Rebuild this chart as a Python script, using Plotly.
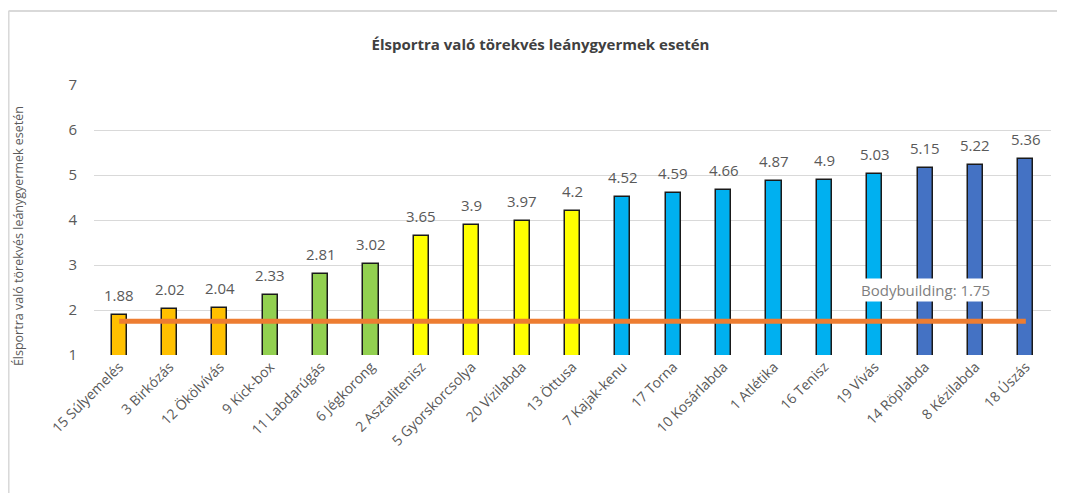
import plotly.graph_objects as go

# adatok
sports = ["15 Súlyemelés", "3 Birkózás", "12 Ökölvívás", "9 Kick-box", "11 Labdarúgás",
          "6 Jégkorong", "2 Asztalitenisz", "5 Gyorskorcsolya", "20 Vízilabda", "13 Öttusa",
          "7 Kajak-kenu", "17 Torna", "10 Kosárlabda", "1 Atlétika", "16 Tenisz",
          "19 Vívás", "14 Röplabda", "8 Kézilabda", "18 Úszás"]
values = [1.88, 2.02, 2.04, 2.33, 2.81, 3.02, 3.65, 3.9, 3.97, 4.2,
          4.52, 4.59, 4.66, 4.87, 4.9, 5.03, 5.15, 5.22, 5.36]
groups = ["o"] * 3 + ["g"] * 3 + ["y"] * 4 + ["lb"] * 6 + ["b"] * 3
group_colors = {"o": "#FFC000", "g": "#92D050", "y": "#FFFF00", "lb": "#00B0F0", "b": "#4472C4"}
bodybuilding = 1.75

fig = go.Figure()

fig.add_trace(go.Bar(
    x=sports, y=values,
    marker=dict(color=[group_colors[g] for g in groups],
                line=dict(color="#1a1a1a", width=1.5)),
    width=0.3,
    showlegend=False,
))

# Bodybuilding referencia vonal
fig.add_trace(go.Scatter(
    x=[sports[0], sports[-1]], y=[bodybuilding, bodybuilding],
    mode="lines", line=dict(color="#ED7D31", width=5),
    showlegend=False,
))

# értékcímkék
for s, v in zip(sports, values):
    fig.add_annotation(x=s, y=v, text=f"{v:g}", showarrow=False,
                       yanchor="middle", yshift=20,
                       font=dict(size=15, color="#595959"))

fig.add_annotation(
    x=sports[16], y=2.44, text=f"Bodybuilding: {bodybuilding}",
    showarrow=False, bgcolor="white", xanchor="center",
    font=dict(size=15, color="#7f7f7f"),
)

# tengelycím
fig.add_annotation(
    xref="paper", yref="paper", x=-0.0795, y=0.44,
    text="Élsportra való törekvés leánygyermek esetén", textangle=-90,
    showarrow=False, xanchor="center", yanchor="middle",
    font=dict(size=12.5, color="#595959"),
)

fig.update_layout(
    width=1065, height=493,
    margin=dict(l=86, r=22, t=77, b=146),
    paper_bgcolor="white", plot_bgcolor="white",
    font=dict(family="Open Sans, Noto Sans, sans-serif", color="#595959"),
    title=dict(text="<b>Élsportra való törekvés leánygyermek esetén</b>",
               x=0.5, xanchor="center", y=0.925, yanchor="middle",
               font=dict(size=15, color="#404040")),
    bargap=0.0,
    shapes=[
        dict(type="line", xref="paper", yref="paper", x0=-0.0893, x1=-0.0893,
             y0=-0.55, y1=1.274, line=dict(color="#d9d9d9", width=2)),
        dict(type="line", xref="paper", yref="paper", x0=-0.0893, x1=1.03,
             y0=1.274, y1=1.274, line=dict(color="#d9d9d9", width=2)),
    ],
)

fig.update_yaxes(
    range=[1, 7], dtick=1, showgrid=True, gridcolor="#d9d9d9", zeroline=False,
    tickfont=dict(size=15, color="#595959"), ticks="", ticklabelstandoff=16,
)
fig.update_xaxes(
    tickangle=-45, tickfont=dict(size=14, color="#595959"),
    showline=False, ticks="",
)

fig.write_html("out.html")
